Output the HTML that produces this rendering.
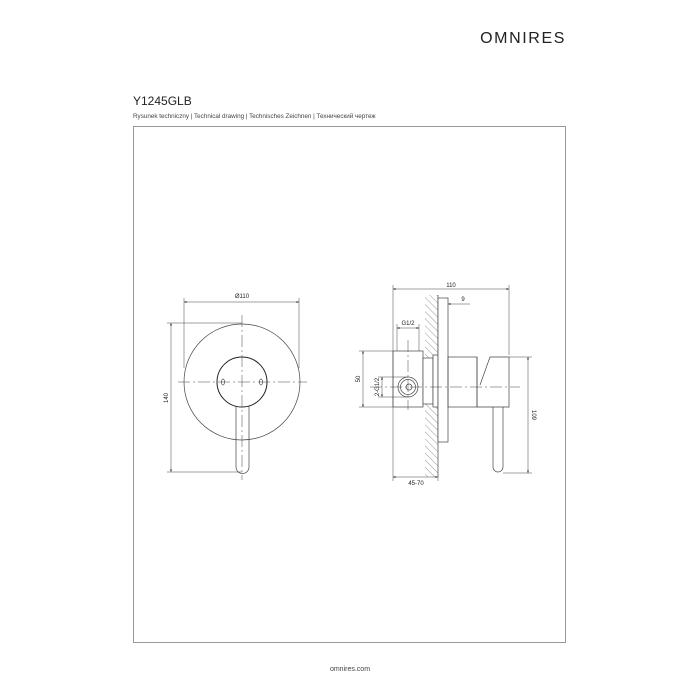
<!DOCTYPE html>
<html><head><meta charset="utf-8"><style>
html,body{margin:0;padding:0;background:#fff;width:700px;height:700px;overflow:hidden}
svg{display:block}
text{font-family:"Liberation Sans",sans-serif;fill:#222}
</style></head><body>
<svg width="700" height="700" viewBox="0 0 700 700" xmlns="http://www.w3.org/2000/svg">
<defs>
<marker id="a" viewBox="0 0 10 10" refX="10" refY="5" markerWidth="5" markerHeight="5" orient="auto-start-reverse"><path d="M0,1 L10,5 L0,9 Z" fill="#333"/></marker>
<pattern id="h" width="5" height="5" patternUnits="userSpaceOnUse" patternTransform="rotate(-45)"><line x1="0" y1="0" x2="0" y2="5" stroke="#555" stroke-width="0.6"/></pattern>
</defs>
<text x="566" y="43" text-anchor="end" style="font-family:'Liberation Sans',sans-serif;font-size:16px;letter-spacing:1.6px;fill:#222">OMNIRES</text>
<text x="133" y="105" style="font-size:12px">Y1245GLB</text>
<text x="133" y="118" style="font-size:6.3px;fill:#444">Rysunek techniczny | Technical drawing | Technisches Zeichnen | Технический чертеж</text>
<rect x="133.5" y="126.5" width="432" height="516" fill="none" stroke="#999" stroke-width="1"/>
<text x="350" y="671" text-anchor="middle" style="font-size:7px;fill:#444">omnires.com</text>

<g fill="none" stroke="#444" stroke-width="0.7">
<circle cx="242" cy="382" r="58"/>
<circle cx="242" cy="382" r="25" stroke="#222" stroke-width="1"/>
<path d="M236,406 V467 a6.5,6.5 0 0 0 13,0 V406"/>
<ellipse cx="223" cy="382" rx="1.5" ry="3"/>
<ellipse cx="261" cy="382" rx="1.5" ry="3"/>
<line x1="178" y1="382" x2="307" y2="382" stroke-dasharray="12,3,2,3" stroke-width="0.5"/>
<line x1="242" y1="315" x2="242" y2="480" stroke-dasharray="12,3,2,3" stroke-width="0.5"/>
<line x1="184" y1="298" x2="184" y2="368" stroke-width="0.5"/>
<line x1="299" y1="298" x2="299" y2="368" stroke-width="0.5"/>
<line x1="184" y1="302" x2="299" y2="302" stroke-width="0.5" marker-start="url(#a)" marker-end="url(#a)"/>
<line x1="167" y1="323" x2="242" y2="323" stroke-width="0.5"/>
<line x1="167" y1="472" x2="242" y2="472" stroke-width="0.5"/>
<line x1="171" y1="323" x2="171" y2="472" stroke-width="0.5" marker-start="url(#a)" marker-end="url(#a)"/>

<rect x="425" y="295" width="13" height="182" fill="url(#h)" stroke="none"/>
<line x1="438" y1="295" x2="438" y2="477"/>
<rect x="393" y="351" width="30" height="56" fill="#fff"/>
<rect x="423" y="358" width="10" height="46" fill="#fff"/>
<rect x="433" y="355" width="5" height="52" fill="#fff"/>
<rect x="438" y="298" width="10" height="144" fill="#fff"/>
<circle cx="408" cy="387" r="10"/>
<circle cx="408" cy="387" r="7.5"/>
<circle cx="409" cy="387" r="3"/>
<rect x="448" y="357" width="29" height="50"/>
<path d="M477,357 V407 H509 V357 H490 L480,385"/>
<path d="M493,407 V467 a5,5 0 0 0 10,0 V407"/>
<line x1="370" y1="387" x2="520" y2="387" stroke-dasharray="12,3,2,3" stroke-width="0.5"/>
<line x1="408" y1="340" x2="408" y2="410" stroke-dasharray="12,3,2,3" stroke-width="0.5"/>
<line x1="393" y1="285" x2="393" y2="481" stroke-width="0.5"/>
<line x1="509" y1="285" x2="509" y2="355" stroke-width="0.5"/>
<line x1="393" y1="289" x2="509" y2="289" stroke-width="0.5" marker-start="url(#a)" marker-end="url(#a)"/>
<line x1="470" y1="304" x2="448" y2="304" stroke-width="0.5" marker-end="url(#a)"/>
<line x1="397" y1="324" x2="397" y2="351" stroke-width="0.5"/>
<line x1="419" y1="324" x2="419" y2="351" stroke-width="0.5"/>
<line x1="397" y1="328" x2="419" y2="328" stroke-width="0.5" marker-start="url(#a)" marker-end="url(#a)"/>
<line x1="359" y1="351" x2="393" y2="351" stroke-width="0.5"/>
<line x1="359" y1="407" x2="393" y2="407" stroke-width="0.5"/>
<line x1="363" y1="351" x2="363" y2="407" stroke-width="0.5" marker-start="url(#a)" marker-end="url(#a)"/>
<line x1="378" y1="377" x2="408" y2="377" stroke-width="0.5"/>
<line x1="378" y1="397" x2="408" y2="397" stroke-width="0.5"/>
<line x1="382" y1="377" x2="382" y2="397" stroke-width="0.5" marker-start="url(#a)" marker-end="url(#a)"/>
<line x1="438" y1="477" x2="438" y2="481" stroke-width="0.5"/>
<line x1="393" y1="477" x2="438" y2="477" stroke-width="0.5" marker-start="url(#a)" marker-end="url(#a)"/>
<line x1="509" y1="357" x2="532" y2="357" stroke-width="0.5"/>
<line x1="503" y1="473" x2="532" y2="473" stroke-width="0.5"/>
<line x1="528" y1="357" x2="528" y2="473" stroke-width="0.5" marker-start="url(#a)" marker-end="url(#a)"/>
</g>
<g style="font-size:6px">
<text x="242" y="298" text-anchor="middle">Ø110</text>
<text transform="translate(168,398) rotate(-90)" text-anchor="middle">140</text>
<text x="451" y="287" text-anchor="middle">110</text>
<text x="463" y="301" text-anchor="middle">9</text>
<text x="408" y="325" text-anchor="middle">G1/2</text>
<text transform="translate(360,379) rotate(-90)" text-anchor="middle">50</text>
<text transform="translate(379,387) rotate(-90)" text-anchor="middle">2-G1/2</text>
<text x="416" y="485" text-anchor="middle">45-70</text>
<text transform="translate(532,415) rotate(90)" text-anchor="middle">109</text>
</g>
</svg>
</body></html>
